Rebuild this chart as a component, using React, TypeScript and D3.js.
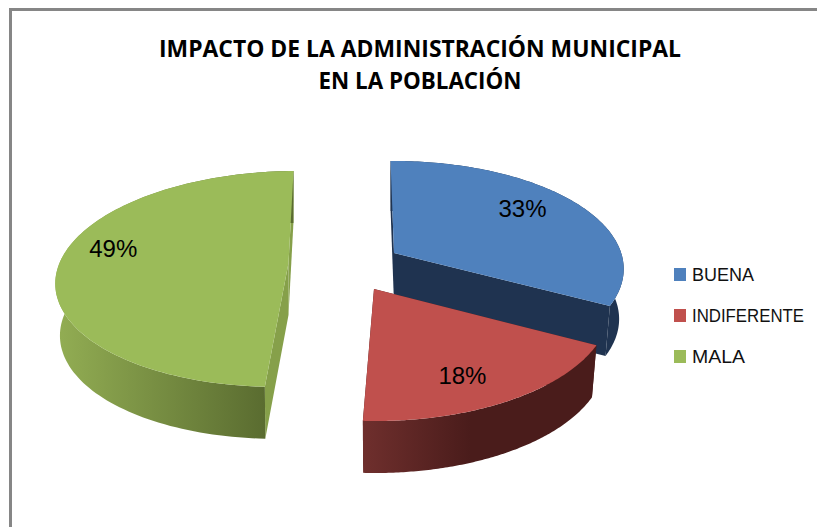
import React from "react";
import * as d3 from "d3";

const categories = ["BUENA", "INDIFERENTE", "MALA"];
const values = [33, 18, 49];
const labels = ["33%", "18%", "49%"];
const titleLines = ["IMPACTO DE LA ADMINISTRACIÓN MUNICIPAL", "EN LA POBLACIÓN"];
const topColors = ["#4f81bd", "#c0504d", "#9bbb59"];
const wallColors = ["#1f3350", "#4a1d1c", "#86a04a"];
const sideStops = [
  ["#1f3350", "#1f3350"],
  ["#6f2f2d", "#4a1c1b"],
  ["#92ad53", "#5a6c30"],
];

const W = 817, H = 527;
const startAngle = (-1 * Math.PI) / 180;
const K = 0.148, A = 224.5, B = 105.6;
const center = [374, 270];
const explode = [[20, -17], [0, 19], [-85.5, -7]];
const widen = [1.012, 1.04, 1.02];
const stretch = [1, 1.065, 1];
const shear = [0, 0.01, -0.0926];
const depth = [50, 52, 52];
const labelRadius = [0.7, 0.78, 0.78];
const labelNudge = [[0, -7], [-13, 2], [3, -13]];
const sideRange = [[394, 620], [363, 470], [58, 265]];
const drawOrder = [0, 2, 1];

const pie = d3.pie<number>().sort(null).startAngle(startAngle).endAngle(startAngle + 2 * Math.PI);
const arcs = pie(values);

function project(i: number, theta: number, r: number, bottom: boolean): [number, number] {
  const u = r * Math.sin(theta), v = -r * Math.cos(theta);
  const w = 1 - K * v;
  const X0 = (A * widen[i] * u) / w;
  const Y = ((B * v) / w) * stretch[i];
  const X = X0 + shear[i] * Y;
  const ax = center[0] + explode[i][0], ay = center[1] + explode[i][1];
  return bottom ? [ax + X * 0.98, ay + Y + depth[i]] : [ax + X, ay + Y];
}

const line = d3.line();

function samples(a: number, b: number): number[] {
  return d3.range(0, 121).map((k) => a + ((b - a) * k) / 120);
}

export default function App() {
  return (
    <svg width={W} height={H} style={{ position: "absolute", left: 0, top: 0 }}>
      <defs>
        {sideStops.map((s, i) => (
          <linearGradient key={i} id={`side${i}`} gradientUnits="userSpaceOnUse" x1={sideRange[i][0]} x2={sideRange[i][1]} y1={0} y2={0}>
            <stop offset="0" stopColor={s[0]} />
            <stop offset="1" stopColor={s[1]} />
          </linearGradient>
        ))}
      </defs>
      <rect width={W} height={H} fill="#fff" />
      <path d={`M10.5 ${H}V9.5H${W}`} fill="none" stroke="#868686" strokeWidth={3} />

      {titleLines.map((t, i) => (
        <text key={t} x={420} y={57 + i * 32} textAnchor="middle" fontFamily="Open Sans" fontWeight={700} fontSize={23}
          textLength={i === 0 ? 522 : 203} lengthAdjust="spacingAndGlyphs" fill="#000">{t}</text>
      ))}

      {drawOrder.map((i) => {
        const a = arcs[i];
        const th = samples(a.startAngle, a.endAngle);
        const apexT = project(i, 0, 0, false), apexB = project(i, 0, 0, true);
        const startT = project(i, a.startAngle, 1, false), startB = project(i, a.startAngle, 1, true);
        const endT = project(i, a.endAngle, 1, false), endB = project(i, a.endAngle, 1, true);
        const topArc = th.map((t) => project(i, t, 1, false));
        const botArc = th.map((t) => project(i, t, 1, true));
        return (
          <g key={i}>
            <path d={line([apexT, startT, startB, apexB])! + "Z"} fill={wallColors[i]} />
            <path d={line([apexT, endT, endB, apexB])! + "Z"} fill={wallColors[i]} />
            <path d={line([...topArc, ...botArc.slice().reverse()])! + "Z"} fill={`url(#side${i})`} />
            <path d={line([apexT, ...topArc])! + "Z"} fill={topColors[i]} />
          </g>
        );
      })}

      {arcs.map((a, i) => {
        const mid = (a.startAngle + a.endAngle) / 2;
        const p = project(i, mid, labelRadius[i], false);
        return (
          <text key={i} x={p[0] + labelNudge[i][0]} y={p[1] + labelNudge[i][1] + 8} textAnchor="middle"
            fontFamily="Liberation Sans" fontSize={24} fill="#000">{labels[i]}</text>
        );
      })}

      {categories.map((c, i) => (
        <g key={c}>
          <rect x={674} y={268 + i * 41} width={12} height={13} fill={topColors[i]} />
          <text x={692} y={281 + i * 41} fontFamily="Liberation Sans" fontSize={18} fill="#111"
            textLength={c === "BUENA" ? 62 : c === "MALA" ? 53 : 112} lengthAdjust="spacingAndGlyphs">{c}</text>
        </g>
      ))}
    </svg>
  );
}
